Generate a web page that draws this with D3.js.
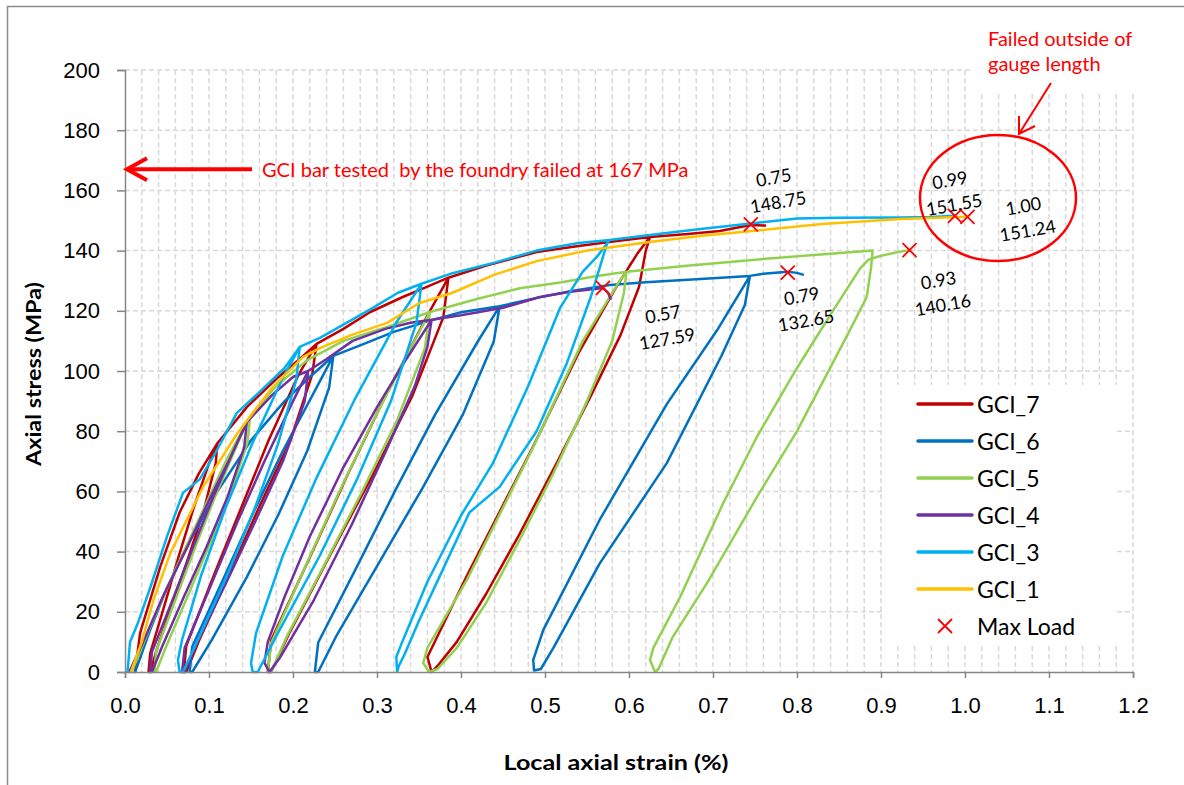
<!DOCTYPE html>
<meta charset="utf-8">
<style>
    body {
        margin: 0;
        background: #fff;
    }

    svg {
        font-family: Lato, "Open Sans", sans-serif;
    }

    .grid line {
        stroke: #d9d9d9;
        stroke-width: 1.5;
        stroke-dasharray: 5, 3;
    }

    .axis path,
    .axis line {
        fill: none;
        stroke: #868686;
        stroke-width: 1.5;
    }

    .axis text {
        fill: #000;
        font-size: 22px;
    }

    .series {
        fill: none;
        stroke-width: 2.5;
        stroke-linejoin: round;
        stroke-linecap: round;
    }
</style>

<body>
    <script src="https://cdn.jsdelivr.net/npm/d3@7"></script>
    <script>
        // strain (%), stress (MPa), in test order
        var gci7 = [
            [0.012, 0], [0.018, 13], [0.042, 35], [0.065, 53], [0.088, 66], [0.11, 76],
            [0.108, 69.3], [0.094, 53.9], [0.076, 38.5], [0.057, 23.1], [0.038, 7.7], [0.030, 0], [0.028, 0],
            [0.030, 6.2], [0.048, 23.1], [0.064, 38.5], [0.081, 53.9], [0.100, 69.3], [0.11, 76],
            [0.145, 88], [0.181, 97.6], [0.208, 104], [0.228, 109],
            [0.223, 99], [0.197, 77], [0.160, 55], [0.125, 33], [0.089, 11], [0.073, 0], [0.07, 0],
            [0.073, 8.8], [0.107, 33], [0.139, 55], [0.171, 77], [0.207, 99], [0.228, 109],
            [0.26, 114], [0.292, 119.6], [0.33, 124.5], [0.36, 128], [0.385, 131],
            [0.379, 117.9], [0.342, 91.7], [0.295, 65.5], [0.245, 39.3], [0.196, 13.1], [0.174, 0], [0.17, 0],
            [0.174, 10.5], [0.222, 39.3], [0.265, 65.5], [0.310, 91.7], [0.359, 117.9], [0.385, 131],
            [0.43, 135], [0.49, 139.5], [0.54, 141.5], [0.581, 143], [0.625, 144.5],
            [0.62, 140], [0.612, 128], [0.59, 112], [0.555, 92], [0.515, 70], [0.47, 46], [0.43, 26], [0.395, 10], [0.372, 2], [0.365, 0],
            [0.36, 5], [0.407, 32], [0.486, 75], [0.54, 106], [0.585, 128], [0.61, 139], [0.625, 144.5],
            [0.67, 145.5], [0.708, 146.5], [0.745, 148.5], [0.762, 148.3]
        ];

        var gci6 = [
            [0.012, 0], [0.03, 14], [0.05, 28], [0.08, 45], [0.11, 60], [0.15, 77], [0.19, 90], [0.22, 98], [0.248, 105],
            [0.243, 94.5], [0.217, 73.5], [0.183, 52.5], [0.145, 31.5], [0.103, 10.5], [0.080, 0], [0.077, 0],
            [0.080, 8.4], [0.118, 31.5], [0.152, 52.5], [0.188, 73.5], [0.228, 94.5], [0.248, 105],
            [0.28, 108.5], [0.32, 113], [0.36, 116.5], [0.40, 119.5], [0.446, 121.5],
            [0.439, 109.8], [0.402, 85.4], [0.354, 61], [0.303, 36.6], [0.252, 12.2], [0.230, 0], [0.226, 0],
            [0.230, 9.8], [0.279, 36.6], [0.323, 61], [0.369, 85.4], [0.420, 109.8], [0.446, 121.5],
            [0.49, 124.3], [0.53, 126.5], [0.577, 128.6], [0.62, 129.5], [0.68, 130.5], [0.744, 131.6],
            [0.738, 122], [0.71, 105], [0.645, 69.4], [0.565, 36], [0.51, 8], [0.495, 1], [0.487, 0.5],
            [0.486, 4], [0.498, 14], [0.565, 50.5], [0.645, 89], [0.705, 113.6], [0.744, 131.6],
            [0.76, 132.3], [0.789, 133], [0.80, 132.6], [0.807, 132]
        ];

        var gci5 = [
            [0.008, 0], [0.03, 15], [0.06, 34], [0.09, 52], [0.12, 70], [0.149, 85],
            [0.146, 76.5], [0.126, 59.5], [0.101, 42.5], [0.075, 25.5], [0.049, 8.5], [0.037, 0], [0.035, 0],
            [0.037, 6.8], [0.062, 25.5], [0.085, 42.5], [0.109, 59.5], [0.135, 76.5], [0.149, 85],
            [0.18, 95], [0.217, 103.6], [0.26, 110], [0.312, 114.6], [0.363, 119.6],
            [0.357, 107.6], [0.324, 83.7], [0.282, 59.8], [0.238, 35.9], [0.193, 12], [0.174, 0], [0.17, 0],
            [0.174, 9.6], [0.216, 35.9], [0.255, 59.8], [0.296, 83.7], [0.340, 107.6], [0.363, 119.6],
            [0.42, 124], [0.47, 127.5], [0.52, 129.5], [0.56, 131.5], [0.597, 133],
            [0.594, 126], [0.58, 110], [0.55, 90], [0.51, 66], [0.47, 44], [0.43, 23], [0.395, 8], [0.372, 1], [0.362, 0],
            [0.355, 3], [0.36, 8], [0.407, 30.6], [0.486, 74.7], [0.545, 110], [0.589, 130], [0.597, 133],
            [0.669, 135], [0.75, 137], [0.82, 138.5], [0.89, 140],
            [0.888, 134], [0.883, 124.6], [0.863, 113.6], [0.8, 80], [0.752, 58], [0.693, 29.6], [0.652, 11.6], [0.635, 1], [0.631, 0],
            [0.625, 4], [0.629, 8], [0.661, 25], [0.712, 56], [0.752, 78], [0.8, 101], [0.845, 121], [0.875, 134], [0.885, 137],
            [0.9, 138.3], [0.92, 139.5], [0.934, 140.16]
        ];

        var gci4 = [
            [0.005, 0], [0.02, 9], [0.045, 25], [0.075, 42], [0.1, 57], [0.125, 71], [0.145, 83],
            [0.142, 74.7], [0.122, 58.1], [0.097, 41.5], [0.070, 24.9], [0.044, 8.3], [0.032, 0], [0.03, 0],
            [0.032, 6.6], [0.058, 24.9], [0.081, 41.5], [0.105, 58.1], [0.131, 74.7], [0.145, 83],
            [0.175, 92], [0.2, 98], [0.218, 100],
            [0.214, 90], [0.188, 70], [0.155, 50], [0.121, 30], [0.086, 10], [0.071, 0], [0.068, 0],
            [0.071, 8], [0.104, 30], [0.134, 50], [0.166, 70], [0.200, 90], [0.218, 100],
            [0.24, 104], [0.271, 110], [0.31, 114], [0.34, 116], [0.365, 117],
            [0.36, 108], [0.345, 95], [0.31, 73], [0.27, 49], [0.225, 24], [0.185, 5], [0.172, 0],
            [0.166, 3], [0.17, 10], [0.19, 25], [0.22, 45], [0.26, 68], [0.30, 88], [0.335, 104], [0.365, 117],
            [0.4, 118.5], [0.45, 121], [0.494, 124.6], [0.53, 126.3], [0.569, 127.6], [0.575, 126], [0.578, 124]
        ];

        var gci3 = [
            [0.003, 0], [0.006, 10], [0.015, 16], [0.03, 28], [0.05, 45], [0.069, 59.5], [0.08, 62], [0.089, 64],
            [0.11, 74], [0.133, 86], [0.16, 93], [0.19, 101], [0.208, 108],
            [0.204, 97.2], [0.182, 75.6], [0.154, 54], [0.122, 32.4], [0.087, 10.8], [0.069, 0], [0.065, 0],
            [0.063, 4], [0.068, 10.8], [0.091, 32.4], [0.119, 54], [0.151, 75.6], [0.187, 97.2], [0.208, 108],
            [0.232, 111], [0.27, 117], [0.292, 120.5], [0.325, 126], [0.353, 129],
            [0.347, 116.1], [0.317, 90.3], [0.277, 64.5], [0.232, 38.7], [0.182, 12.9], [0.158, 0], [0.152, 0],
            [0.15, 3], [0.156, 12.9], [0.188, 38.7], [0.228, 64.5], [0.273, 90.3], [0.323, 116.1], [0.353, 129],
            [0.39, 132.5], [0.44, 136], [0.49, 140], [0.54, 142.5], [0.577, 143.5],
            [0.574, 142.5], [0.555, 125], [0.526, 102.6], [0.49, 80], [0.446, 61.5], [0.41, 53], [0.38, 35], [0.35, 17], [0.333, 6], [0.326, 2],
            [0.324, 0], [0.323, 5], [0.33, 10], [0.36, 30], [0.4, 52], [0.438, 69.4], [0.48, 95], [0.518, 121], [0.545, 133], [0.562, 138], [0.577, 143.5],
            [0.62, 145], [0.68, 147], [0.745, 149], [0.8, 150.7], [0.85, 150.9], [0.923, 151], [0.96, 151.2], [0.988, 151.55]
        ];

        var gci1 = [
            [0.007, 0], [0.02, 10], [0.034, 24], [0.054, 39.5], [0.093, 61.5], [0.133, 79], [0.173, 93.7],
            [0.212, 104.7], [0.232, 107.6], [0.27, 112], [0.312, 116], [0.35, 122.5], [0.39, 126], [0.44, 132],
            [0.49, 136.5], [0.55, 140], [0.629, 143], [0.69, 145], [0.756, 146.8], [0.83, 148.8],
            [0.923, 150.5], [0.96, 150.8], [1.0, 151.24]
        ];

        var seriesNames = ["GCI_7", "GCI_6", "GCI_5", "GCI_4", "GCI_3", "GCI_1"];
        var seriesData = [gci7, gci6, gci5, gci4, gci3, gci1];

        var maxStrain = [0.569, 0.745, 0.789, 0.934, 0.988, 1.003];
        var maxStress = [127.59, 148.75, 132.65, 140.16, 151.55, 151.24];
        var maxStrainText = ["0.57", "0.75", "0.79", "0.93", "0.99", "1.00"];
        var maxStressText = ["127.59", "148.75", "132.65", "140.16", "151.55", "151.24"];

        var xTicks = [0, 0.1, 0.2, 0.3, 0.4, 0.5, 0.6, 0.7, 0.8, 0.9, 1.0, 1.1, 1.2];
        var yTicks = [0, 20, 40, 60, 80, 100, 120, 140, 160, 180, 200];
        var foundryStress = 167;

        var W = 1184, H = 785;
        var svg = d3.select("body").append("svg")
            .attr("width", W)
            .attr("height", H);

        var x = d3.scaleLinear().domain([0, 1.2]).range([125, 1133]);
        var y = d3.scaleLinear().domain([0, 200]).range([672, 70]);

        var color = d3.scaleOrdinal()
            .domain(seriesNames)
            .range(["#C00000", "#0070C0", "#92D050", "#7030A0", "#00B0F0", "#FFC000"]);

        // chart border (left + top visible)
        svg.append("path")
            .attr("d", "M7.5," + H + "V6.5H" + W)
            .attr("fill", "none")
            .attr("stroke", "#8c8c8c")
            .attr("stroke-width", 1.5);

        // gridlines
        var grid = svg.append("g").attr("class", "grid");
        grid.selectAll(null)
            .data(d3.range(1, 61).map(function (i) { return i * 0.02; }))
            .enter().append("line")
            .attr("x1", function (d) { return x(d); })
            .attr("x2", function (d) { return x(d); })
            .attr("y1", y(200))
            .attr("y2", y(0));
        grid.selectAll(null)
            .data(yTicks.slice(1))
            .enter().append("line")
            .attr("x1", x(0))
            .attr("x2", x(1.2))
            .attr("y1", function (d) { return y(d); })
            .attr("y2", function (d) { return y(d); });

        // white text box behind the "failed outside" note
        svg.append("rect")
            .attr("x", 970).attr("y", 12)
            .attr("width", 180).attr("height", 81)
            .attr("fill", "#fff");

        var line = d3.line()
            .x(function (d) { return x(d[0]); })
            .y(function (d) { return y(d[1]); });

        svg.append("g").selectAll("path")
            .data(seriesData)
            .enter().append("path")
            .attr("class", "series")
            .attr("stroke", function (d, i) { return color(seriesNames[i]); })
            .attr("d", line);

        // axes
        svg.append("g")
            .attr("class", "axis")
            .attr("transform", "translate(" + x(0) + ",0)")
            .call(d3.axisLeft(y).tickValues(yTicks).tickSize(8).tickPadding(17));

        svg.append("g")
            .attr("class", "axis")
            .attr("transform", "translate(0," + y(0) + ")")
            .call(d3.axisBottom(x).tickValues(xTicks).tickSize(6).tickPadding(19)
                .tickFormat(d3.format(".1f")));

        svg.append("text")
            .attr("transform", "translate(32," + 374 + ") rotate(-90)")
            .attr("text-anchor", "middle")
            .attr("dominant-baseline", "central")
            .attr("font-weight", "bold")
            .attr("font-size", 21)
            .attr("textLength", 184)
            .attr("lengthAdjust", "spacingAndGlyphs")
            .text("Axial stress (MPa)");

        svg.append("text")
            .attr("x", 616)
            .attr("y", 770)
            .attr("text-anchor", "middle")
            .attr("font-weight", "bold")
            .attr("font-size", 21)
            .attr("textLength", 225)
            .attr("lengthAdjust", "spacingAndGlyphs")
            .text("Local axial strain (%)");

        // max load markers
        var cross = svg.append("g").selectAll("g")
            .data(maxStrain)
            .enter().append("g")
            .attr("transform", function (d, i) {
                return "translate(" + x(d) + "," + y(maxStress[i]) + ")";
            });
        cross.append("path")
            .attr("d", "M-7,-7L7,7M-7,7L7,-7")
            .attr("stroke", "#FF0000")
            .attr("stroke-width", 1.8);

        // value labels, slightly tilted like the original
        var labelShift = [[62, 38], [25, -35], [16, 35], [31, 42], [-3, -24], [58, 1]];
        var labels = svg.append("g").selectAll("g")
            .data(maxStrain)
            .enter().append("g")
            .attr("transform", function (d, i) {
                return "translate(" + (x(d) + labelShift[i][0]) + "," + (y(maxStress[i]) + labelShift[i][1]) + ") rotate(-10)";
            })
            .attr("font-size", 18)
            .attr("text-anchor", "middle");
        labels.append("text")
            .attr("y", -12.5)
            .attr("dominant-baseline", "central")
            .text(function (d, i) { return maxStrainText[i]; });
        labels.append("text")
            .attr("y", 12.5)
            .attr("dominant-baseline", "central")
            .text(function (d, i) { return maxStressText[i]; });

        // foundry note
        var fy = y(foundryStress);
        svg.append("line")
            .attr("x1", 252).attr("x2", x(0) + 3)
            .attr("y1", fy).attr("y2", fy)
            .attr("stroke", "#FF0000").attr("stroke-width", 4);
        svg.append("path")
            .attr("d", "M" + (x(0) + 22) + "," + (fy - 11) + "L" + (x(0) + 2) + "," + fy + "L" + (x(0) + 22) + "," + (fy + 11))
            .attr("fill", "none")
            .attr("stroke", "#FF0000")
            .attr("stroke-width", 4);
        svg.append("text")
            .attr("x", 262)
            .attr("y", fy)
            .attr("dominant-baseline", "central")
            .attr("fill", "#FF0000")
            .attr("font-size", 20)
            .style("white-space", "pre")
            .text("GCI bar tested  by the foundry failed at " + foundryStress + " MPa");

        // failed outside gauge length note
        svg.append("ellipse")
            .attr("cx", 998).attr("cy", 198)
            .attr("rx", 78).attr("ry", 63)
            .attr("fill", "none")
            .attr("stroke", "#FF0000")
            .attr("stroke-width", 2.5);
        svg.append("path")
            .attr("d", "M1051,83L1019,134M1019,116L1019,134L1035,126")
            .attr("fill", "none")
            .attr("stroke", "#FF0000")
            .attr("stroke-width", 2);
        var note = svg.append("text")
            .attr("fill", "#FF0000")
            .attr("font-size", 20);
        note.append("tspan").attr("x", 988).attr("y", 46).text("Failed outside of");
        note.append("tspan").attr("x", 988).attr("y", 71).text("gauge length");

        // legend
        var legend = svg.append("g");
        legend.append("rect")
            .attr("x", 884).attr("y", 385)
            .attr("width", 233).attr("height", 258)
            .attr("fill", "#fff");
        var items = legend.selectAll("g")
            .data(seriesNames)
            .enter().append("g")
            .attr("transform", function (d, i) { return "translate(918," + (404 + i * 37) + ")"; });
        items.append("line")
            .attr("x1", 0).attr("x2", 54)
            .attr("stroke", function (d) { return color(d); })
            .attr("stroke-width", 3.5)
            .attr("stroke-linecap", "round");
        items.append("text")
            .attr("x", 59)
            .attr("dominant-baseline", "central")
            .attr("font-size", 23)
            .text(function (d) { return d; });
        var maxItem = legend.append("g")
            .attr("transform", "translate(918," + (404 + 6 * 37) + ")");
        maxItem.append("path")
            .attr("d", "M20,-7L34,7M20,7L34,-7")
            .attr("stroke", "#FF0000")
            .attr("stroke-width", 1.8);
        maxItem.append("text")
            .attr("x", 59)
            .attr("dominant-baseline", "central")
            .attr("font-size", 23)
            .text("Max Load");
    </script>
</body>
